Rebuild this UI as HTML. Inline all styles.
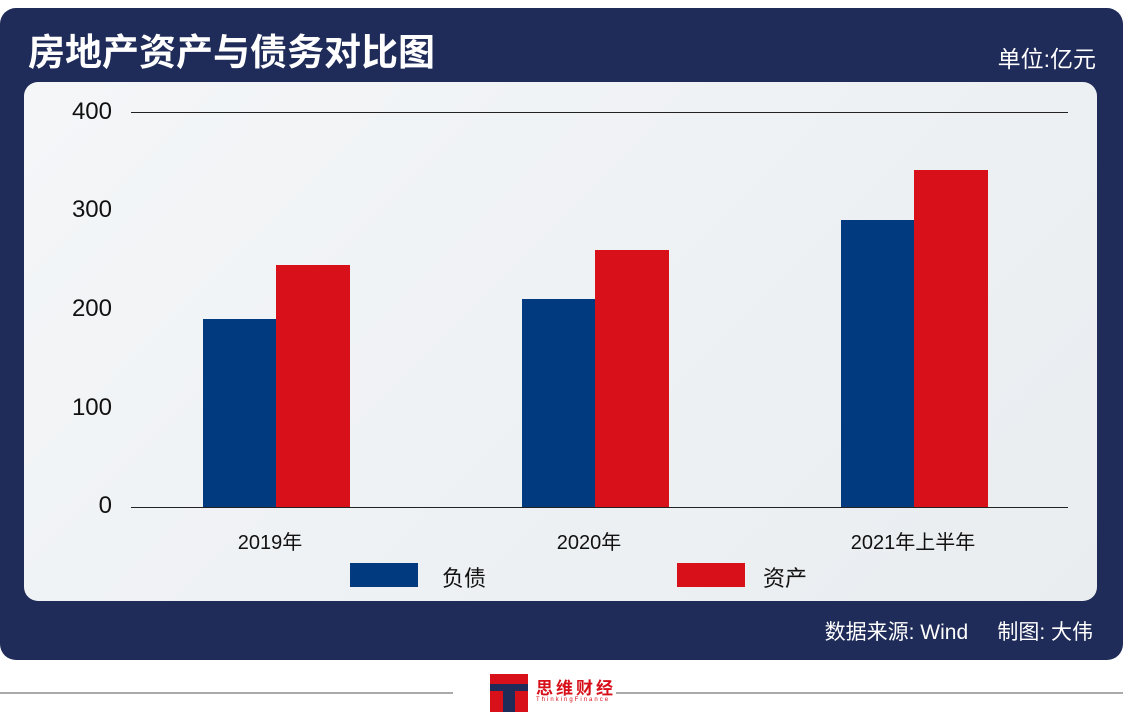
<!DOCTYPE html>
<html><head><meta charset="utf-8"><style>
body{margin:0;width:1123px;height:713px;background:#fff;position:relative;overflow:hidden;font-family:"Liberation Sans","Noto Sans CJK SC",sans-serif}
.outer{position:absolute;left:0;top:8px;width:1123px;height:652px;background:#1f2b58;border-radius:16px}
.inner{position:absolute;left:24px;top:82px;width:1073px;height:519px;background:linear-gradient(135deg,#f4f6f8,#e9edf0);border-radius:14px}
.t{position:absolute;color:#fff;white-space:nowrap}
.a{position:absolute;font-size:24px;color:#111;text-align:right;width:52px}
.bar{position:absolute}
.b{background:#023a80}.r{background:#d7101a}
.xl{position:absolute;font-size:20px;color:#111;text-align:center;width:200px}
</style></head><body>
<div class="outer"></div>
<div class="inner"></div>
<div class="t" style="left:28px;top:22px;font-size:37px;font-weight:bold">房地产资产与债务对比图</div>
<div class="t" style="right:27px;top:40px;font-size:23px">单位:亿元</div>
<div class="a" style="left:60px;top:98px">400</div>
<div class="a" style="left:60px;top:196px">300</div>
<div class="a" style="left:60px;top:295px">200</div>
<div class="a" style="left:60px;top:394px">100</div>
<div class="a" style="left:60px;top:492px">0</div>
<div style="position:absolute;left:131px;top:112px;width:937px;height:1px;background:#222"></div>
<div class="bar b" style="left:203px;top:319px;width:73px;height:188px"></div>
<div class="bar r" style="left:276px;top:265px;width:74px;height:242px"></div>
<div class="bar b" style="left:522px;top:299px;width:73px;height:208px"></div>
<div class="bar r" style="left:595px;top:250px;width:74px;height:257px"></div>
<div class="bar b" style="left:841px;top:220px;width:73px;height:287px"></div>
<div class="bar r" style="left:914px;top:170px;width:74px;height:337px"></div>
<div style="position:absolute;left:131px;top:507px;width:937px;height:1px;background:#222"></div>
<div class="xl" style="left:170px;top:526px">2019年</div>
<div class="xl" style="left:489px;top:526px">2020年</div>
<div class="xl" style="left:813px;top:526px">2021年上半年</div>
<div class="bar b" style="left:350px;top:563px;width:68px;height:24px"></div>
<div style="position:absolute;left:442px;top:561px;font-size:22px;color:#111">负债</div>
<div class="bar r" style="left:677px;top:563px;width:68px;height:24px"></div>
<div style="position:absolute;left:763px;top:561px;font-size:22px;color:#111">资产</div>
<div class="t" style="right:30px;top:616px;font-size:21px">数据来源: Wind&nbsp;&nbsp;&nbsp;&nbsp;&nbsp;制图: 大伟</div>
<div style="position:absolute;left:0;top:692px;width:453px;height:2px;background:#aaa"></div>
<div style="position:absolute;left:581px;top:692px;width:542px;height:2px;background:#aaa"></div>
<div style="position:absolute;left:490px;top:674px;width:38px;height:38px;background:#d7101a"></div>
<div style="position:absolute;left:490px;top:684px;width:38px;height:7px;background:#1f2b58"></div>
<div style="position:absolute;left:503px;top:691px;width:12px;height:21px;background:#1f2b58"></div>
<div style="position:absolute;left:536px;top:674px;font-size:17px;font-weight:bold;color:#d7101a;letter-spacing:3px;background:#fff">思维财经</div>
<div style="position:absolute;left:536px;top:697px;font-size:6px;color:#d7101a;letter-spacing:2px">ThinkingFinance</div>
</body></html>
